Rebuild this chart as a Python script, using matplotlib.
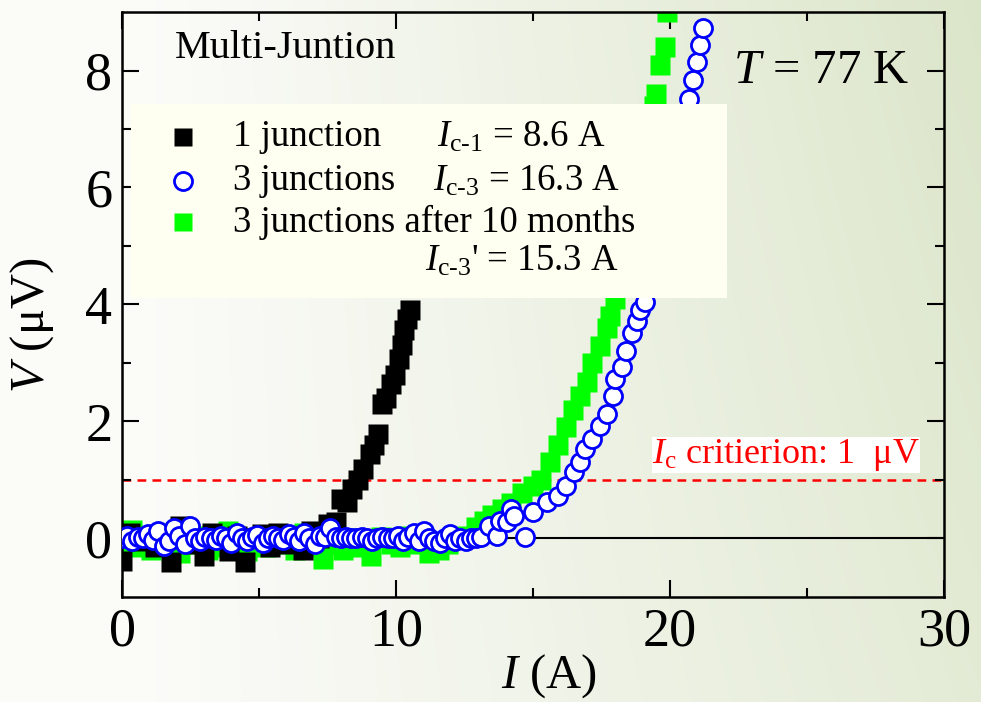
import numpy as np
import matplotlib
matplotlib.use("Agg")
import matplotlib.pyplot as plt
from matplotlib.patches import Rectangle

plt.rcParams['font.family'] = ['Liberation Serif', 'DejaVu Serif']
plt.rcParams['mathtext.fontset'] = 'custom'
plt.rcParams['mathtext.rm'] = 'Liberation Serif'
plt.rcParams['mathtext.it'] = 'Liberation Serif:italic'

# -------------------------
# Data
# -------------------------
# 1 junction (black squares)
i_one = [0.0, 0.3, 0.6, 0.9, 1.2, 1.5, 1.8, 2.1, 2.4, 2.7, 3.0, 3.3, 3.6, 3.9,
         4.2, 4.5, 4.8, 5.1, 5.4, 5.7, 6.0, 6.3, 6.6, 6.9, 7.2, 7.5, 7.8,
         8.0, 8.2, 8.4, 8.6, 8.8, 9.05, 9.2, 9.35, 9.5, 9.65, 9.8, 9.95,
         10.1, 10.2, 10.3, 10.4, 10.5, 10.7, 10.9, 11.1]
v_one = [-0.38, 0.1, -0.05, 0.0, -0.15, 0.05, -0.40, 0.22, 0.15, -0.1, -0.3,
         0.1, 0.0, -0.22, 0.05, -0.40, 0.0, 0.08, -0.15, 0.1, -0.1, 0.05,
         -0.2, 0.12, 0.0, 0.25, 0.28,
         0.68, 0.63, 0.85, 1.0, 1.19, 1.45, 1.6, 1.79, 2.3, 2.4, 2.64, 2.8,
         3.06, 3.3, 3.57, 3.75, 3.9, 4.3, 4.7, 5.1]

# 3 junctions (blue open circles)
i_three = [0.0, 0.19, 0.38, 0.57, 0.76, 0.95, 1.14, 1.33, 1.52, 1.71, 1.9,
           2.09, 2.28, 2.47, 2.66, 2.85, 3.04, 3.23, 3.42, 3.61, 3.8, 3.99,
           4.18, 4.37, 4.56, 4.75, 4.94, 5.13, 5.32, 5.51, 5.7, 5.89, 6.08,
           6.27, 6.46, 6.65, 6.84, 7.03, 7.22, 7.41, 7.6, 7.79, 7.98, 8.17,
           8.36, 8.55, 8.74, 8.93, 9.12, 9.31, 9.5, 9.69, 9.88, 10.07, 10.26,
           10.45, 10.64, 10.83, 11.02, 11.21, 11.4, 11.59, 11.78, 11.97,
           12.16, 12.35, 12.54, 12.73, 12.92, 13.1,
           13.4, 13.7, 13.8, 14.05, 14.2, 14.3, 14.7, 15.0, 15.5, 15.9,
           16.2, 16.5, 16.7, 16.9, 17.15, 17.45, 17.7, 17.9, 18.0, 18.25,
           18.4, 18.6, 18.8, 18.9, 19.1, 19.3, 19.6, 19.9, 20.2, 20.5,
           20.7, 20.85, 21.0, 21.1, 21.2]
v_three = [0.0, 0.05, -0.05, 0.02, 0.0, 0.08, -0.03, 0.12, -0.12, -0.05,
           0.18, 0.05, -0.1, 0.22, 0.0, -0.05, 0.03, 0.0, -0.03, 0.05, 0.0,
           -0.08, 0.1, 0.0, -0.05, 0.03, 0.06, -0.08, 0.0, 0.05, 0.0, -0.03,
           0.08, 0.02, -0.05, 0.1, 0.0, -0.1, 0.05, 0.03, 0.18, 0.02, 0.0,
           0.02, 0.0, 0.0, 0.02, 0.0, -0.05, 0.0, 0.02, 0.0, 0.0, 0.05, -0.05,
           0.02, 0.1, -0.05, 0.12, 0.0, -0.05, -0.08, 0.0, 0.08, -0.05, 0.0,
           -0.05, 0.0, 0.0, 0.02,
           0.22, 0.05, 0.3, 0.29, 0.5, 0.39, 0.03, 0.46, 0.63, 0.73,
           0.9, 1.14, 1.3, 1.53, 1.7, 1.92, 2.13, 2.43, 2.72, 2.93,
           3.2, 3.52, 3.71, 3.9, 4.05, 4.5, 5.1, 5.7, 6.3, 6.9,
           7.52, 7.83, 8.14, 8.43, 8.73]

# 3 junctions after 10 months (green squares)
i_aged = [0.0, 0.35, 0.7, 1.05, 1.4, 1.75, 2.1, 2.45, 2.8, 3.15, 3.5, 3.85,
          4.2, 4.55, 4.9, 5.25, 5.6, 5.95, 6.3, 6.65, 7.0, 7.35, 7.7, 8.05,
          8.4, 8.75, 9.1, 9.45, 9.8, 10.15, 10.5, 10.85, 11.2, 11.55, 11.9,
          12.25, 12.6,
          12.9, 13.2, 13.5, 13.85, 14.2, 14.6, 15.0, 15.3, 15.6, 15.9, 16.2,
          16.46, 16.7, 16.97, 17.15, 17.45, 17.7, 17.8, 18.0, 18.3, 18.6,
          18.9, 19.2, 19.4, 19.5, 19.65, 19.8, 19.9]
v_aged = [-0.1, 0.15, -0.15, -0.2, -0.05, 0.1, -0.25, -0.1, 0.05, -0.2,
          -0.15, 0.12, -0.1, -0.22, 0.0, -0.15, -0.1, 0.05, -0.2, 0.1, -0.15,
          -0.35, -0.1, -0.2, 0.0, -0.15, -0.3, 0.02, -0.1, -0.15, 0.05,
          -0.1, -0.25, -0.2, -0.1, 0.0, 0.05,
          0.2, 0.3, 0.4, 0.5, 0.6, 0.78, 0.9, 1.0, 1.3, 1.6, 1.9,
          2.2, 2.43, 2.67, 3.0, 3.29, 3.6, 3.8, 4.1, 4.9, 5.6,
          6.3, 7.0, 7.4, 7.6, 8.1, 8.4, 9.0]

criterion_uv = 1.0

fig = plt.figure(figsize=(9.81, 7.02), dpi=100)

# -------------------------
# Background gradient
# -------------------------
bg = fig.add_axes([0, 0, 1, 1], zorder=-10)
u = np.linspace(0, 1, 400)[None, :]
w = np.linspace(0, 1, 300)[:, None]
t = np.clip((u - 0.15) / 0.85, 0, 1) ** 1.1 * (0.75 + 0.25 * (1 - w))
white = np.array([0.985, 0.985, 0.975])
green = np.array([0.86, 0.90, 0.79])
img = white[None, None, :] * (1 - t[..., None]) + green[None, None, :] * t[..., None]
bg.imshow(img, aspect='auto', extent=[0, 1, 0, 1], origin='upper')
bg.axis('off')

# -------------------------
# Main axes
# -------------------------
ax = fig.add_axes([0.1244, 0.1496, 0.838, 0.8333])
ax.set_facecolor('none')

ax.axhline(0, color='black', lw=1.5, zorder=1)
ax.axhline(criterion_uv, color='red', lw=1.8, ls=(0, (3.5, 2.5)), zorder=1)

ax.plot(i_aged, v_aged, 's', color='#00ff00', ms=14, mec='none', zorder=2)
ax.plot(i_one, v_one, 's', color='black', ms=14, mec='none', zorder=3)
ax.plot(i_three, v_three, 'o', mfc='white', mec='#0000ff', ms=13,
        mew=2.0, zorder=4)

ax.set_xlim(0, 30)
ax.set_ylim(-1, 9)
ax.set_xticks([0, 10, 20, 30])
ax.set_xticks([5, 15, 25], minor=True)
ax.set_yticks([0, 2, 4, 6, 8])
ax.set_yticks([1, 3, 5, 7], minor=True)
ax.tick_params(which='both', direction='in', top=True, right=True,
               width=1.5, labelsize=39, pad=7)
ax.tick_params(which='major', length=12)
ax.tick_params(which='minor', length=6.5)
for s in ax.spines.values():
    s.set_linewidth(1.8)

ax.set_xlabel(r'$I$ (A)', fontsize=35)
ax.xaxis.set_label_coords(0.519, -0.095)
ax.set_ylabel(r'$V$ (μV)', fontsize=35)
ax.yaxis.set_label_coords(-0.08, 0.465)

# annotations
ax.text(0.064, 0.938, 'Multi-Juntion', transform=ax.transAxes,
        fontsize=29, va='center', ha='left')
ax.text(0.743, 0.90, r'$T$ = 77 K', transform=ax.transAxes,
        fontsize=35, va='center', ha='left')
ax.text(0.645, 0.243, r'$I_{\mathrm{c}}$ critierion: 1  μV',
        transform=ax.transAxes, fontsize=26, va='center', ha='left',
        color='red', bbox=dict(facecolor='white', edgecolor='none', pad=0),
        zorder=5)

# -------------------------
# Legend (drawn by hand)
# -------------------------
ax.add_patch(Rectangle((0.011, 0.511), 0.725, 0.332, transform=ax.transAxes,
                       facecolor='#fefff0', edgecolor='none', zorder=6))
rows = [0.786, 0.711, 0.641, 0.573]
ax.plot([0.074], [rows[0]], 's', color='black', ms=13, mec='none',
        transform=ax.transAxes, zorder=7, clip_on=False)
ax.plot([0.074], [rows[1]], 'o', mfc='white', mec='#0000ff', ms=13,
        mew=2.0, transform=ax.transAxes, zorder=7, clip_on=False)
ax.plot([0.074], [rows[2]], 's', color='#00ff00', ms=13, mec='none',
        transform=ax.transAxes, zorder=7, clip_on=False)
leg_kw = dict(transform=ax.transAxes, fontsize=26.5, va='center', ha='left',
              zorder=8)
ax.text(0.135, rows[0], '1 junction', **leg_kw)
ax.text(0.135, rows[1], '3 junctions', **leg_kw)
ax.text(0.135, rows[2], '3 junctions after 10 months', **leg_kw)
ax.text(0.383, rows[0], r'$I_{\mathrm{c}\text{-}1}$ = 8.6 A', **leg_kw)
ax.text(0.378, rows[1], r'$I_{\mathrm{c}\text{-}3}$ = 16.3 A', **leg_kw)
ax.text(0.369, rows[3], r"$I_{\mathrm{c}\text{-}3}$' = 15.3 A", **leg_kw)

fig.savefig('out.png', dpi=100)
